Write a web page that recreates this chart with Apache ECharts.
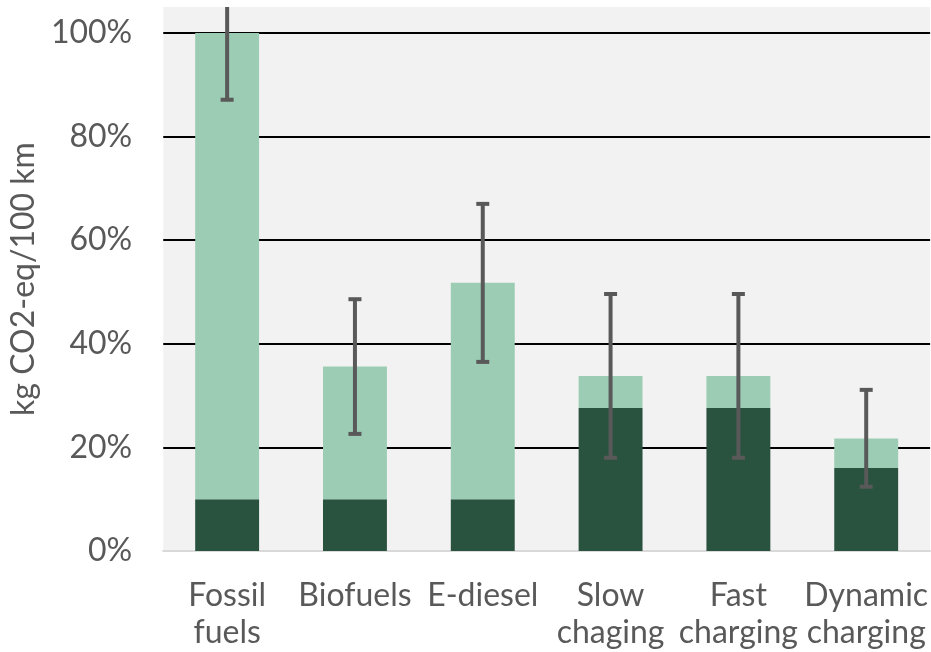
<!DOCTYPE html>
<html><head><meta charset="utf-8">
<script src="https://cdn.jsdelivr.net/npm/echarts@6/dist/echarts.min.js"></script>
<style>html,body{margin:0;padding:0;background:#fff}#c{width:931px;height:652px}</style>
</head><body><div id="c"></div>
<script>
const categories = ['Fossil\nfuels', 'Biofuels', 'E-diesel', 'Slow\nchaging', 'Fast\ncharging', 'Dynamic\ncharging'];
const baseValues = [10, 10, 10, 27.6, 27.6, 16];
const totalValues = [100, 35.6, 51.8, 33.8, 33.8, 21.7];
const errLow = [87.1, 22.6, 36.5, 18.0, 18.0, 12.4];
const errHigh = [113, 48.6, 67.0, 49.6, 49.6, 31.1];
const yTicks = [0, 20, 40, 60, 80, 100];

const chart = echarts.init(document.getElementById('c'));
const upperValues = totalValues.map((t, i) => +(t - baseValues[i]).toFixed(2));
const errData = categories.map((c, i) => [i, errLow[i], errHigh[i]]);
const font = 'Lato, "Open Sans", sans-serif';

chart.setOption({
  animation: false,
  grid: { left: 163, right: 0, top: 7, bottom: 101, show: true, backgroundColor: '#f2f2f2', borderWidth: 0 },
  xAxis: {
    type: 'category', data: categories,
    axisTick: { show: false },
    axisLine: { show: true, lineStyle: { color: '#d9d9d9', width: 2 } },
    axisLabel: { color: '#595959', fontSize: 32, fontFamily: font, lineHeight: 37, margin: 26, interval: 0 }
  },
  yAxis: {
    type: 'value', min: 0, max: 105, interval: 20,
    name: 'kg CO2-eq/100 km', nameLocation: 'middle', nameGap: 115,
    nameTextStyle: { color: '#595959', fontSize: 32, fontFamily: font },
    axisLine: { show: false }, axisTick: { show: false },
    axisLabel: { color: '#595959', fontSize: 32, fontFamily: font, margin: 31, showMaxLabel: false,
      formatter: v => yTicks.indexOf(v) >= 0 ? v + '%' : '' },
    splitLine: { show: true, showMinLine: false, showMaxLine: false, lineStyle: { color: '#000', width: 2 } }
  },
  series: [
    { type: 'bar', stack: 's', data: baseValues, barWidth: '50%', itemStyle: { color: '#29523f' } },
    { type: 'bar', stack: 's', data: upperValues, barWidth: '50%', itemStyle: { color: '#9ccdb4' } },
    {
      type: 'custom', data: errData, clip: true, z: 10,
      renderItem: function (params, api) {
        const lo = api.coord([api.value(0), api.value(1)]);
        const hi = api.coord([api.value(0), api.value(2)]);
        const hw = 6.5;
        const st = { stroke: '#595959', lineWidth: 4 };
        return { type: 'group', children: [
          { type: 'line', shape: { x1: lo[0], y1: lo[1], x2: hi[0], y2: hi[1] }, style: st },
          { type: 'line', shape: { x1: lo[0] - hw, y1: lo[1], x2: lo[0] + hw, y2: lo[1] }, style: st },
          { type: 'line', shape: { x1: hi[0] - hw, y1: hi[1], x2: hi[0] + hw, y2: hi[1] }, style: st }
        ]};
      }
    }
  ]
});
</script></body></html>
